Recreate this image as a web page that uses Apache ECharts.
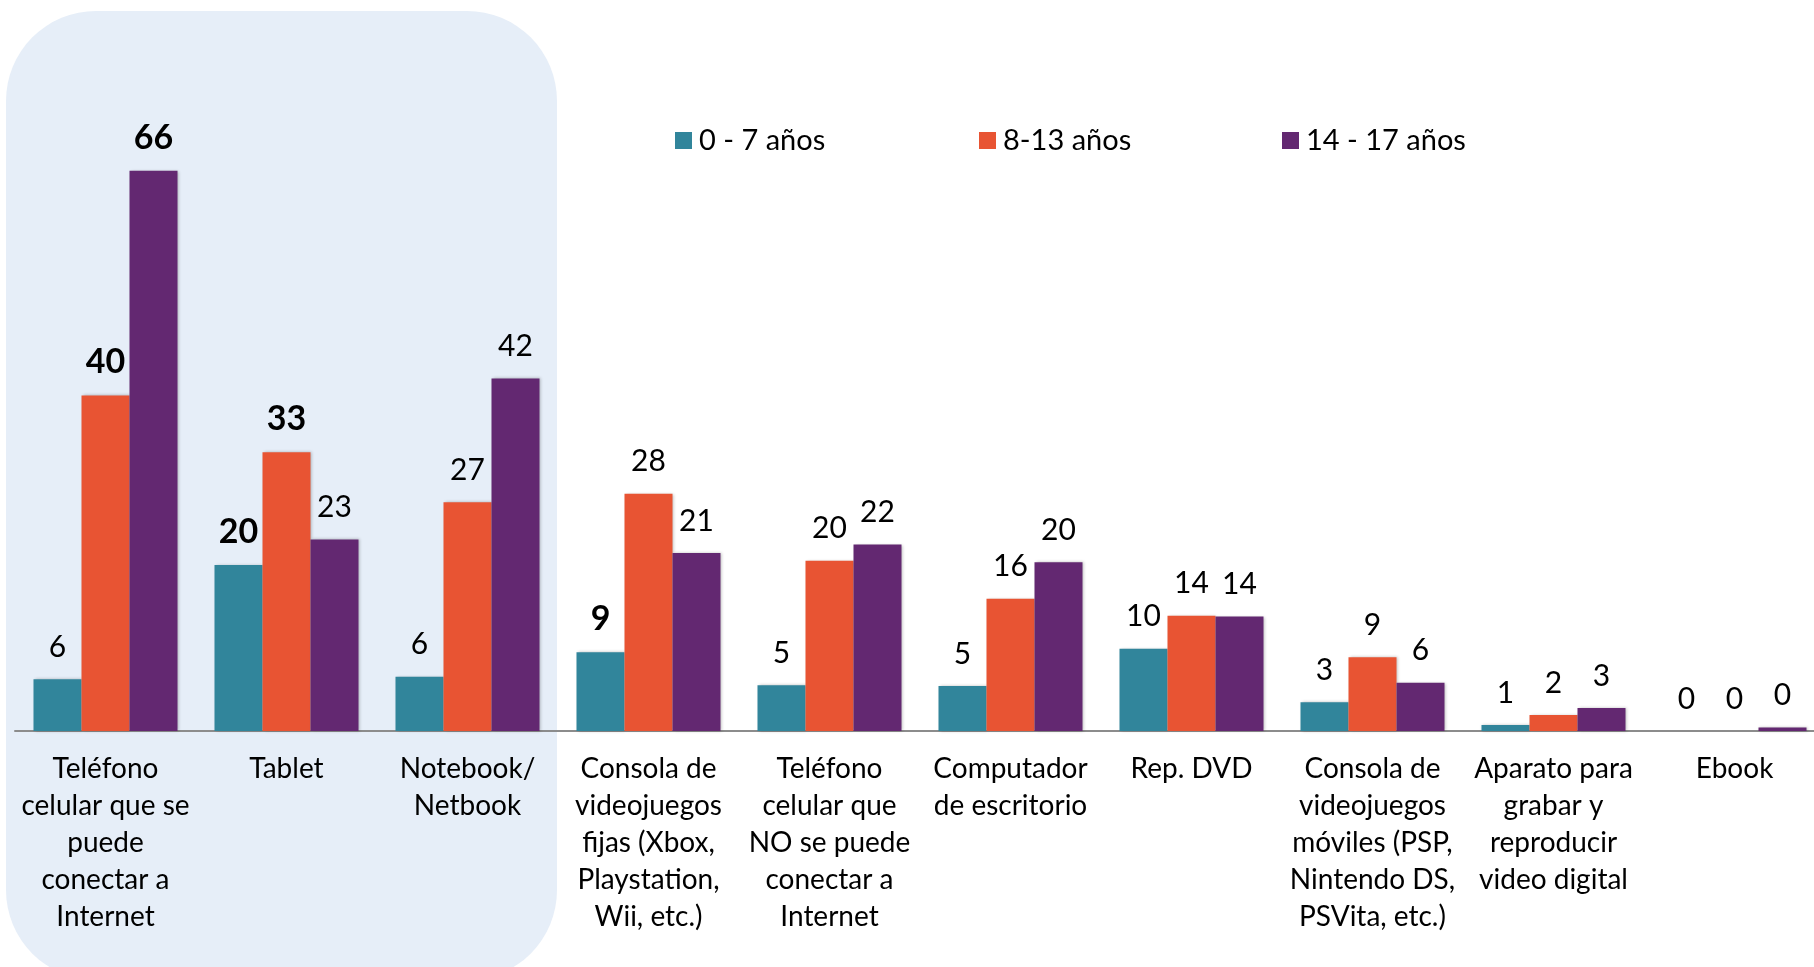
<!DOCTYPE html>
<html>
<head>
<meta charset="utf-8">
<script src="https://cdn.jsdelivr.net/npm/echarts@6/dist/echarts.min.js"></script>
<style>html,body{margin:0;padding:0;background:#fff}#c{width:1814px;height:967px}</style>
</head>
<body>
<div id="c"></div>
<script>
const categories = [
  "Teléfono\ncelular que se\npuede\nconectar a\nInternet",
  "Tablet",
  "Notebook/\nNetbook",
  "Consola de\nvideojuegos\nfijas (Xbox,\nPlaystation,\nWii, etc.)",
  "Teléfono\ncelular que\nNO se puede\nconectar a\nInternet",
  "Computador\nde escritorio",
  "Rep. DVD",
  "Consola de\nvideojuegos\nmóviles (PSP,\nNintendo DS,\nPSVita, etc.)",
  "Aparato para\ngrabar y\nreproducir\nvideo digital",
  "Ebook"
];
const seriesNames = ["0 - 7 años", "8-13 años", "14 - 17 años"];
const age0to7   = [6.1, 19.6, 6.4, 9.3, 5.4, 5.3, 9.7, 3.4, 0.7, 0];
const age8to13  = [39.6, 32.9, 27, 28, 20.1, 15.6, 13.6, 8.7, 1.9, 0];
const age14to17 = [66.1, 22.6, 41.6, 21, 22, 19.9, 13.5, 5.7, 2.7, 0.4];
// which labels are emphasised in bold: [seriesIndex, categoryIndex]
const boldLabels = [[1,0],[2,0],[0,1],[1,1],[0,3]];

const colors = ["#31859B", "#E85433", "#632871"];
const FONT = "Lato, 'Open Sans', sans-serif";

function isBold(s, i) { return boldLabels.some(b => b[0] === s && b[1] === i); }

function makeSeries(name, values, s) {
  return {
    name: name,
    type: "bar",
    barWidth: 48,
    barGap: "0%",
    itemStyle: { color: colors[s], shadowBlur: 3, shadowColor: "rgba(0,0,0,0.25)", shadowOffsetX: 1, shadowOffsetY: 0 },
    data: values.map((v, i) => {
      const bold = isBold(s, i);
      return {
        value: v,
        label: {
          show: true,
          position: "top",
          distance: bold ? 16 : 17,
          formatter: p => String(Math.round(p.value)),
          fontFamily: FONT,
          fontSize: bold ? 34 : 30,
          fontWeight: bold ? "bold" : "normal",
          color: "#000"
        }
      };
    })
  };
}

const legendLefts = [675, 979, 1282];

const chart = echarts.init(document.getElementById("c"), null, { renderer: "canvas" });
chart.setOption({
  animation: false,
  backgroundColor: "#ffffff",
  graphic: [{
    type: "rect",
    z: -10,
    silent: true,
    shape: { x: 6, y: 11, width: 551, height: 969, r: 90 },
    style: { fill: "#E6EEF8" }
  }],
  legend: seriesNames.map((n, k) => ({
    data: [n],
    left: legendLefts[k],
    top: 126,
    padding: 0,
    itemWidth: 17,
    itemHeight: 17,
    icon: "rect",
    textStyle: { fontFamily: FONT, fontSize: 29, color: "#000", padding: [0, 0, 0, 2] }
  })),
  grid: { left: 15, width: 1810, top: 53, height: 678, outerBoundsMode: "none", containLabel: false },
  xAxis: {
    type: "category",
    data: categories,
    axisTick: { show: false },
    axisLine: { show: true, lineStyle: { color: "#8C8C8C", width: 2 } },
    axisLabel: {
      interval: 0,
      margin: 19,
      fontFamily: FONT,
      fontSize: 28,
      lineHeight: 37,
      color: "#000",
      align: "center"
    }
  },
  yAxis: {
    type: "value",
    min: 0,
    max: 80,
    show: false,
    splitLine: { show: false }
  },
  series: [
    makeSeries(seriesNames[0], age0to7, 0),
    makeSeries(seriesNames[1], age8to13, 1),
    makeSeries(seriesNames[2], age14to17, 2)
  ]
});
</script>
</body>
</html>
